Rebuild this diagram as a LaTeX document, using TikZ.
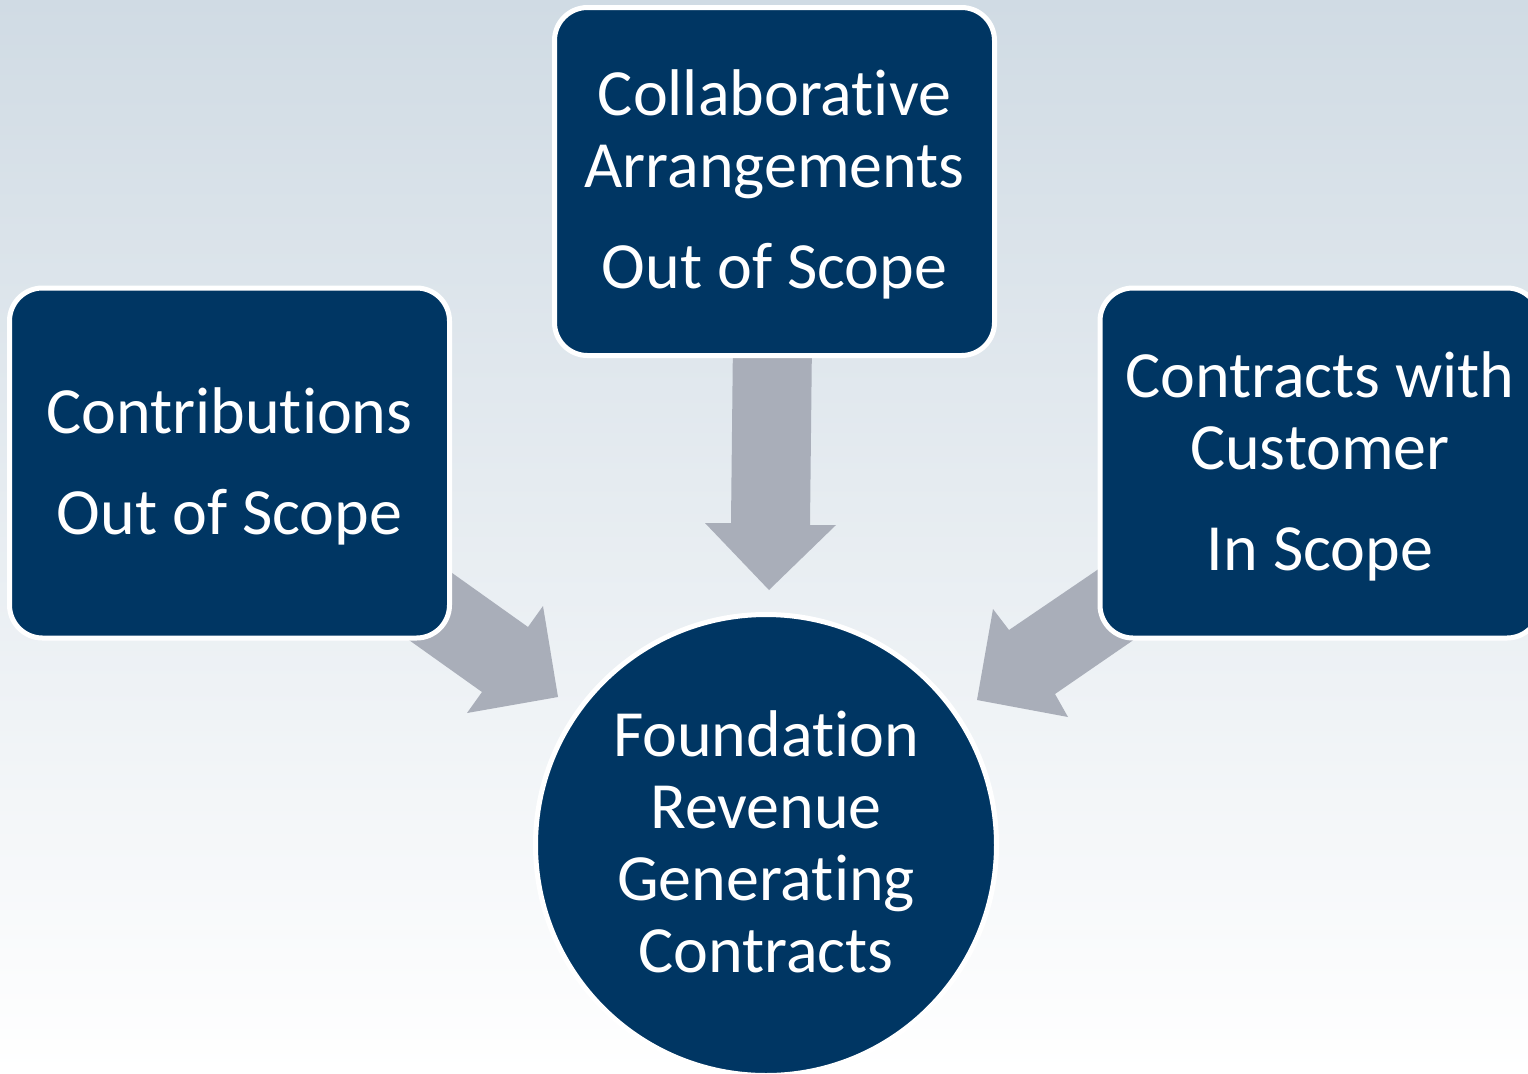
\documentclass[tikz,border=0pt]{standalone}
\usepackage{fontspec}
\setmainfont[Ligatures={NoCommon}]{Carlito}
\definecolor{navy}{RGB}{0,54,99}
\definecolor{arrowgray}{RGB}{169,174,185}
\definecolor{bgtop}{RGB}{208,219,228}
\begin{document}
\begin{tikzpicture}[x=0.5pt,y=-0.5pt,
  box/.style={draw=white, line width=2.5pt, fill=navy, rounded corners=16.5pt,
    minimum width=220pt, minimum height=175pt, inner sep=0pt},
  disc/.style={draw=white, line width=2.5pt, fill=navy, circle, minimum size=230.5pt, inner sep=0pt},
  txt/.style={text=white, align=center, font=\fontsize{33}{36}\selectfont, inner sep=0pt},
  blockarrow/.style={fill=arrowgray, draw=none}]
\useasboundingbox (0,0) rectangle (1528,1073);
\shade[top color=bgtop, bottom color=white] (0,0) rectangle (1528,1073);
% block arrows
\fill[blockarrow] (417,548) -- (528,627) -- (543,606) -- (558,697) -- (467,713) -- (482,692) -- (378,618) -- cycle;
\fill[blockarrow] (1131,547) -- (1009,630) -- (993,609) -- (977,700) -- (1068,717) -- (1055,694) -- (1164,619) -- cycle;
\fill[blockarrow] (733,340) -- (731,523) -- (705,523) -- (769,590) -- (836,525) -- (810,525) -- (812,340) -- cycle;
% boxes
\node[box] (left) at (229.5,463) {};
\node[box, minimum height=174pt] (top) at (774.5,181.5) {};
\node[box] (right) at (1320,463) {};
\node[disc] (center) at (766,845) {};
% texts
\node[txt] (lefttxt) at ([yshift=-1.5pt]left.center) {Contributions\\[14.5pt]Out of Scope};
\node[txt] (toptxt) at ([yshift=-1.5pt]top.center) {Collaborative\\Arrangements\\[14.5pt]Out of Scope};
\node[txt] (righttxt) at ([yshift=-1.5pt]right.center) {Contracts with\\Customer\\[14.5pt]In Scope};
\node[txt] (centertxt) at ([yshift=1.5pt]center.center) {Foundation\\Revenue\\Generating\\Contracts};
\end{tikzpicture}
\end{document}
